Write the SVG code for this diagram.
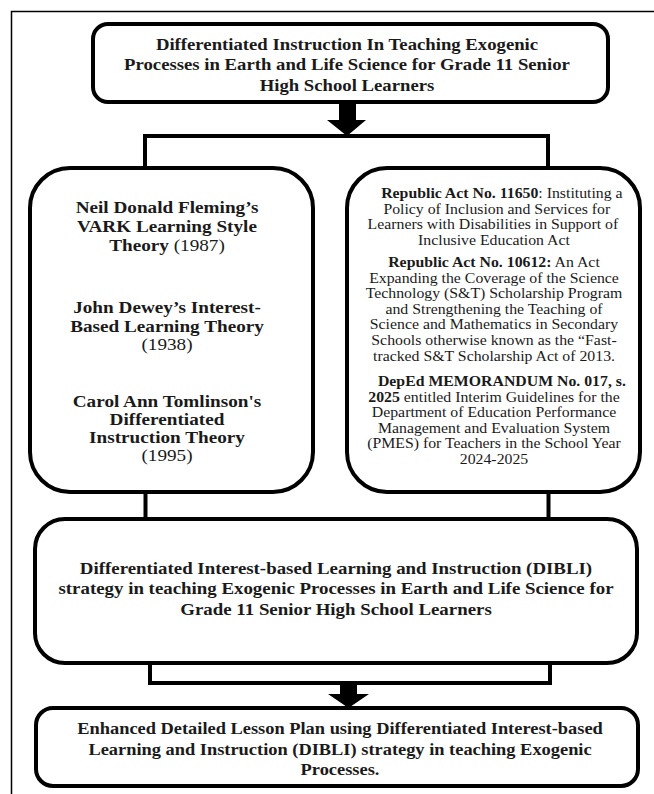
<svg xmlns="http://www.w3.org/2000/svg" width="654" height="794" viewBox="0 0 654 794">
<style>
  .box { fill: #ffffff; stroke: #000000; stroke-width: 4; }
  .conn { fill: none; stroke: #000000; stroke-width: 4; }
  .frame { fill: none; stroke: #000000; stroke-width: 1.5; }
  text { font-family: "Liberation Serif", "Times New Roman", serif; fill: #1a1a1a; text-anchor: middle; }
  .b16 { font-size: 16px; font-weight: bold; }
  .b17 { font-size: 17px; font-weight: bold; }
  .r14 { font-size: 14px; }
  .b { font-weight: bold; }
  .n { font-weight: normal; }
</style>
<rect width="654" height="794" fill="#ffffff"/>
<path class="frame" d="M11.5,794 V11.5 H654"/>

<g id="connectors">
  <path class="conn" d="M145,168 V136 H548 V168"/>
  <path d="M339,102 H356 V120 H366 L347,136 L327,120 H339 Z" fill="#000000"/>
  <path class="conn" d="M145.5,492 V519"/>
  <path class="conn" d="M548.5,492 V519"/>
  <path class="conn" d="M150,663 V683 H550 V663"/>
  <path d="M340,683 H357 V694 H369 L348.5,708 L328,694 H340 Z" fill="#000000"/>
</g>

<g id="node-title">
  <rect class="box" x="93" y="24" width="515" height="78" rx="15"/>
  <g transform="translate(347,0) scale(1.17,1)">
    <text class="b16" x="0" y="50">Differentiated Instruction In Teaching Exogenic</text>
    <text class="b16" x="0" y="70.5">Processes in Earth and Life Science for Grade 11 Senior</text>
    <text class="b16" x="0" y="91">High School Learners</text>
  </g>
</g>

<g id="node-theories">
  <rect class="box" x="30" y="168" width="283" height="324" rx="40"/>
  <g transform="translate(167,0) scale(1.13,1)">
    <text class="b17" x="0" y="213">Neil Donald Fleming’s</text>
    <text class="b17" x="0" y="232">VARK Learning Style</text>
    <text class="b17" x="0" y="251">Theory<tspan class="n"> (1987)</tspan></text>
    <text class="b17" x="0" y="313">John Dewey’s Interest-</text>
    <text class="b17" x="0" y="332">Based Learning Theory</text>
    <text x="0" y="350" style="font-size:17px">(1938)</text>
    <text class="b17" x="0" y="407">Carol Ann Tomlinson's</text>
    <text class="b17" x="0" y="425">Differentiated</text>
    <text class="b17" x="0" y="443">Instruction Theory</text>
    <text x="0" y="461" style="font-size:17px">(1995)</text>
  </g>
</g>

<g id="node-laws">
  <rect class="box" x="347" y="168" width="293" height="324" rx="40"/>
  <g transform="translate(494,0) scale(1.13,1)">
    <text class="r14" x="7" y="198"><tspan class="b">Republic Act No. 11650</tspan>: Instituting a</text>
    <text class="r14" x="2.5" y="213.6">Policy of Inclusion and Services for</text>
    <text class="r14" x="-1" y="229.2">Learners with Disabilities in Support of</text>
    <text class="r14" x="0" y="244.8">Inclusive Education Act</text>
    <text class="r14" x="0" y="267"><tspan class="b">Republic Act No. 10612:</tspan> An Act</text>
    <text class="r14" x="0" y="282.6">Expanding the Coverage of the Science</text>
    <text class="r14" x="0" y="298.2">Technology (S&amp;T) Scholarship Program</text>
    <text class="r14" x="0" y="313.8">and Strengthening the Teaching of</text>
    <text class="r14" x="0" y="329.4">Science and Mathematics in Secondary</text>
    <text class="r14" x="0" y="345">Schools otherwise known as the “Fast-</text>
    <text class="r14" x="0" y="360.6">tracked S&amp;T Scholarship Act of 2013.</text>
    <text class="r14 b" x="7" y="386">DepEd MEMORANDUM No. 017, s.</text>
    <text class="r14" x="0" y="401.6"><tspan class="b">2025</tspan> entitled Interim Guidelines for the</text>
    <text class="r14" x="0" y="417.2">Department of Education Performance</text>
    <text class="r14" x="0" y="432.8">Management and Evaluation System</text>
    <text class="r14" x="0" y="448.4">(PMES) for Teachers in the School Year</text>
    <text class="r14" x="0" y="464">2024-2025</text>
  </g>
</g>

<g id="node-dibli">
  <rect class="box" x="35" y="519" width="602" height="144" rx="30"/>
  <g transform="translate(336,0) scale(1.18,1)">
    <text class="b16" x="0" y="574">Differentiated Interest-based Learning and Instruction (DIBLI)</text>
    <text class="b16" x="0" y="594.5">strategy in teaching Exogenic Processes in Earth and Life Science for</text>
    <text class="b16" x="0" y="615">Grade 11 Senior High School Learners</text>
  </g>
</g>

<g id="node-lesson-plan">
  <rect class="box" x="36" y="708" width="602" height="78" rx="17"/>
  <g transform="translate(340,0) scale(1.15,1)">
    <text class="b16" x="0" y="734">Enhanced Detailed Lesson Plan using Differentiated Interest-based</text>
    <text class="b16" x="0" y="755">Learning and Instruction (DIBLI) strategy in teaching Exogenic</text>
    <text class="b16" x="0" y="775">Processes.</text>
  </g>
</g>
</svg>
